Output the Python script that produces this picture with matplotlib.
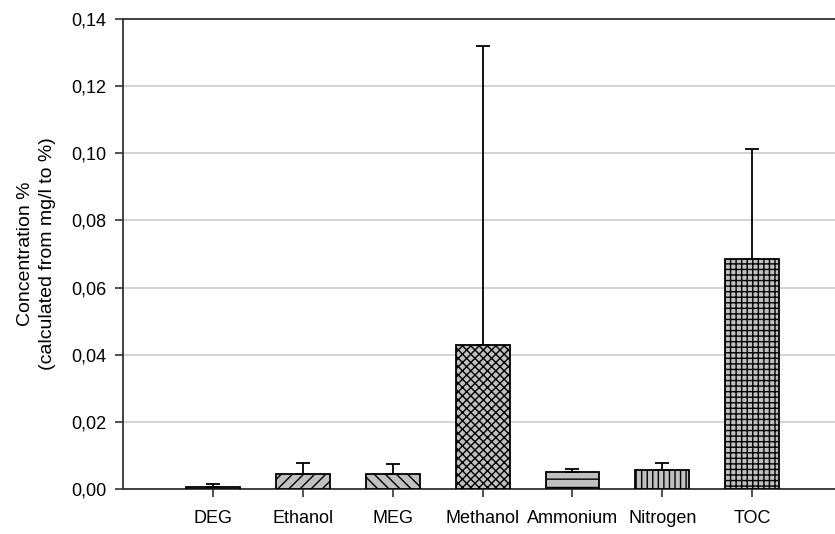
import matplotlib
matplotlib.use("Agg")
import matplotlib.pyplot as plt
import numpy as np

plt.rcParams['font.family'] = ['Liberation Sans', 'DejaVu Sans']
plt.rcParams['hatch.linewidth'] = 1.0

categories = ["DEG", "Ethanol", "MEG", "Methanol", "Ammonium", "Nitrogen", "TOC"]
means = [0.0005, 0.0044, 0.0044, 0.0428, 0.0050, 0.0057, 0.0686]
upper_err = [0.0009, 0.0034, 0.0030, 0.0891, 0.0009, 0.0021, 0.0326]
hatches = ["", "///", "\\\\\\", "xxxx", "--", "|||", "+++"]
yticks = [0.00, 0.02, 0.04, 0.06, 0.08, 0.10, 0.12, 0.14]

fig = plt.figure(figsize=(8.35, 5.34), dpi=100)
ax = fig.add_axes([0.1473, 0.0843, 0.8527, 0.8801])

x = np.arange(len(categories))
bars = ax.bar(x, means, width=0.6, color="#c0c0c0", edgecolor="black",
              linewidth=1.3, zorder=3)
for b, h in zip(bars, hatches):
    b.set_hatch(h)

ax.errorbar(x, means, yerr=[np.zeros(len(means)), upper_err], fmt="none",
            ecolor="black", elinewidth=1.3, capsize=4.7, capthick=1.3, zorder=4)

ax.set_xlim(-1.0, 6.92)
ax.set_ylim(0, 0.14)
ax.set_yticks(yticks)
ax.set_yticklabels([f"{v:.2f}".replace(".", ",") for v in yticks], fontsize=13)
ax.set_xticks(x)
ax.set_xticklabels(categories, fontsize=13)
ax.tick_params(axis="both", direction="out", length=6, width=1.2, color="#333333")
ax.tick_params(axis="x", pad=9)
ax.tick_params(axis="y", pad=6)

ax.yaxis.grid(True, color="#cccccc", linewidth=1.2, zorder=0)
ax.set_axisbelow(True)

for side in ("left", "top", "bottom"):
    ax.spines[side].set_color("#333333")
    ax.spines[side].set_linewidth(1.3)
ax.spines["right"].set_visible(False)

ax.set_ylabel("Concentration %\n(calculated from mg/l to %)", fontsize=14,
              linespacing=1.4, labelpad=11)

fig.savefig("out.png", dpi=100)
